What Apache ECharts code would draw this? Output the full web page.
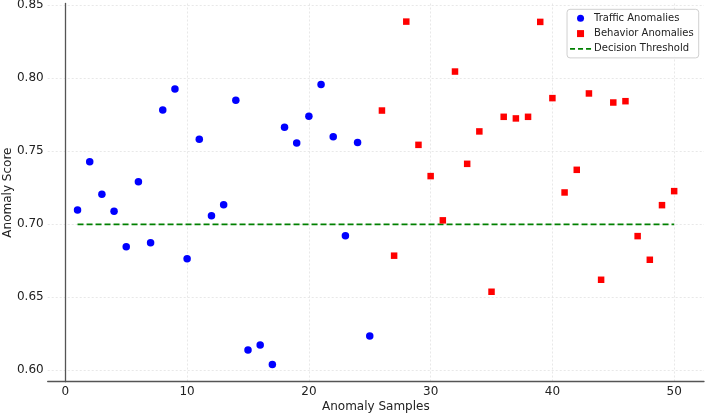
<!DOCTYPE html>
<html>
<head>
<meta charset="utf-8">
<script src="https://cdn.jsdelivr.net/npm/echarts@6/dist/echarts.min.js"></script>
<style>html,body{margin:0;padding:0;background:#fff}#c{width:706px;height:415px}</style>
</head>
<body>
<div id="c"></div>
<script>
const trafficX = [1,2,3,4,5,6,7,8,9,10,11,12,13,14,15,16,17,18,19,20,21,22,23,24,25];
const trafficY = [0.7097,0.7428,0.7205,0.7090,0.6846,0.7291,0.6874,0.7782,0.7927,0.6764,0.7583,0.7058,0.7134,0.7850,0.6139,0.6173,0.6039,0.7665,0.7556,0.7740,0.7957,0.7599,0.6921,0.7560,0.6235];
const behaviorX = [26,27,28,29,30,31,32,33,34,35,36,37,38,39,40,41,42,43,44,45,46,47,48,49,50];
const behaviorY = [0.7779,0.6785,0.8388,0.7544,0.7330,0.7027,0.8046,0.7414,0.7636,0.6538,0.7736,0.7725,0.7736,0.8386,0.7864,0.7218,0.7373,0.7896,0.6620,0.7834,0.7843,0.6919,0.6757,0.7131,0.7227];
const thresholdX = [1, 50];
const thresholdValue = 0.70;
const xTicks = [0,10,20,30,40,50];
const yTicks = [0.60,0.65,0.70,0.75,0.80,0.85];
const seriesNames = ['Traffic Anomalies','Behavior Anomalies','Decision Threshold'];

const font = 'DejaVu Sans';
const chart = echarts.init(document.getElementById('c'), null, {renderer:'canvas'});
const gridLine = {show:true, lineStyle:{color:'#e2e2e2', width:0.8, type:[2,2]}};
chart.setOption({
  animation:false,
  backgroundColor:'#fff',
  textStyle:{fontFamily:font},
  grid:{left:47.7, right:2, top:3.5, bottom:33.3, containLabel:false, outerBoundsMode:'none'},
  legend:{
    orient:'vertical', right:7.3, top:9.3,
    itemWidth:21, itemHeight:7, itemGap:3.3,
    padding:[3,5,3,3],
    borderColor:'#d0d0d0', borderWidth:1, borderRadius:3,
    backgroundColor:'rgba(255,255,255,0.85)',
    symbolKeepAspect:true,
    textStyle:{fontFamily:font, fontSize:10, color:'#222', lineHeight:12, padding:[0,0,0,-2]},
    data:[
      {name:seriesNames[0], icon:'circle'},
      {name:seriesNames[1], icon:'path://M0,0h10v10h-10z'},
      {name:seriesNames[2], icon:'path://M0,0h5v1.6h-5z M8,0h5v1.6h-5z M16,0h5v1.6h-5z'}
    ]
  },
  xAxis:{
    type:'value', min:-1.45, max:52.45,
    name:'Anomaly Samples', nameLocation:'middle', nameGap:19.5, nameMoveOverlap:false,
    nameTextStyle:{fontFamily:font, fontSize:12, color:'#222'},
    axisLine:{show:true, lineStyle:{color:'#555', width:1.3}},
    axisTick:{show:false, customValues:xTicks},
    axisLabel:{customValues:xTicks, margin:4, fontFamily:font, fontSize:12, color:'#222'},
    splitLine:gridLine
  },
  yAxis:{
    type:'value', min:0.5922, max:0.8512,
    name:'Anomaly Score', nameLocation:'middle', nameGap:34, nameRotate:90, nameMoveOverlap:false,
    nameTextStyle:{fontFamily:font, fontSize:12, color:'#222'},
    axisLine:{show:true, lineStyle:{color:'#555', width:1.3}},
    axisTick:{show:false, customValues:yTicks},
    axisLabel:{customValues:yTicks, margin:4, fontFamily:font, fontSize:12, color:'#222',
      formatter:v=>v.toFixed(2)},
    splitLine:gridLine
  },
  series:[
    {name:seriesNames[0], type:'scatter', symbol:'circle', symbolSize:7.5, z:3,
      itemStyle:{color:'#0000ff', opacity:1},
      data:trafficX.map((x,i)=>[x,trafficY[i]])},
    {name:seriesNames[1], type:'scatter', symbol:'rect', symbolSize:6.5, z:3,
      itemStyle:{color:'#ff0000', opacity:1},
      data:behaviorX.map((x,i)=>[x,behaviorY[i]])},
    {name:seriesNames[2], type:'line', z:2, symbol:'none', showSymbol:false,
      lineStyle:{color:'#008000', width:1.7, type:[6,3]},
      itemStyle:{color:'#008000'},
      data:thresholdX.map(x=>[x,thresholdValue])}
  ]
});
</script>
</body>
</html>
